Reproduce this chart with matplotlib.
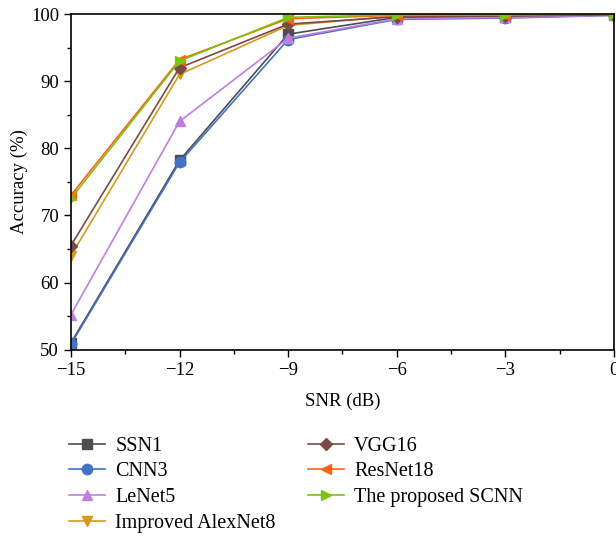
import matplotlib.pyplot as plt

plt.rcParams["font.family"] = ["Liberation Serif", "DejaVu Serif"]

snr = [-15, -12, -9, -6, -3, 0]

ssn1 = [51.0, 78.2, 97.0, 99.5, 99.6, 99.9]
cnn3 = [50.8, 77.9, 96.2, 99.2, 99.4, 99.8]
lenet5 = [55.2, 84.0, 96.4, 99.3, 99.5, 99.8]
alexnet8 = [64.0, 91.0, 98.3, 99.7, 99.8, 99.9]
vgg16 = [65.5, 92.0, 98.5, 99.6, 99.7, 99.9]
resnet18 = [73.0, 93.2, 99.3, 99.8, 99.9, 100.0]
scnn = [72.5, 93.0, 99.5, 99.9, 99.9, 100.0]

series = [
    ("SSN1", ssn1, "s", "#4d4d4d"),
    ("CNN3", cnn3, "o", "#4472c4"),
    ("LeNet5", lenet5, "^", "#c07fe0"),
    ("Improved AlexNet8", alexnet8, "v", "#d49a1a"),
    ("VGG16", vgg16, "D", "#7b4a45"),
    ("ResNet18", resnet18, "<", "#ff6214"),
    ("The proposed SCNN", scnn, ">", "#7cc40f"),
]

fig = plt.figure(figsize=(6.16, 5.39), dpi=100)
ax = fig.add_axes([0.115, 0.351, 0.882, 0.623])

for name, vals, m, c in series:
    ms = 6 if m == "D" else 7.5
    ax.plot(snr, vals, marker=m, color=c, label=name, linewidth=1.2, markersize=ms)

ax.set_xlim(-15, 0)
ax.set_ylim(50, 100)
ax.set_xticks(snr)
ax.set_xticklabels(["\u221215", "\u221212", "\u22129", "\u22126", "\u22123", "0"])
ax.set_xticks([-13.5, -10.5, -7.5, -4.5, -1.5], minor=True)
ax.set_yticks([50, 60, 70, 80, 90, 100])
ax.set_yticks([55, 65, 75, 85, 95], minor=True)
ax.tick_params(direction="out", labelsize=13.5, length=5, width=1)
ax.tick_params(which="minor", direction="out", length=3, width=1)
for s in ax.spines.values():
    s.set_linewidth(1.2)
ax.set_xlabel("SNR (dB)", fontsize=13.5, labelpad=10)
ax.set_ylabel("Accuracy (%)", fontsize=13.5, labelpad=2)

fig.legend(loc="upper left", bbox_to_anchor=(0.112, 0.19), ncol=2, frameon=False,
           fontsize=14.5, handlelength=1.8, handletextpad=0.5, borderpad=0,
           columnspacing=1.6, labelspacing=0.33, borderaxespad=0)

fig.savefig("out.png")
